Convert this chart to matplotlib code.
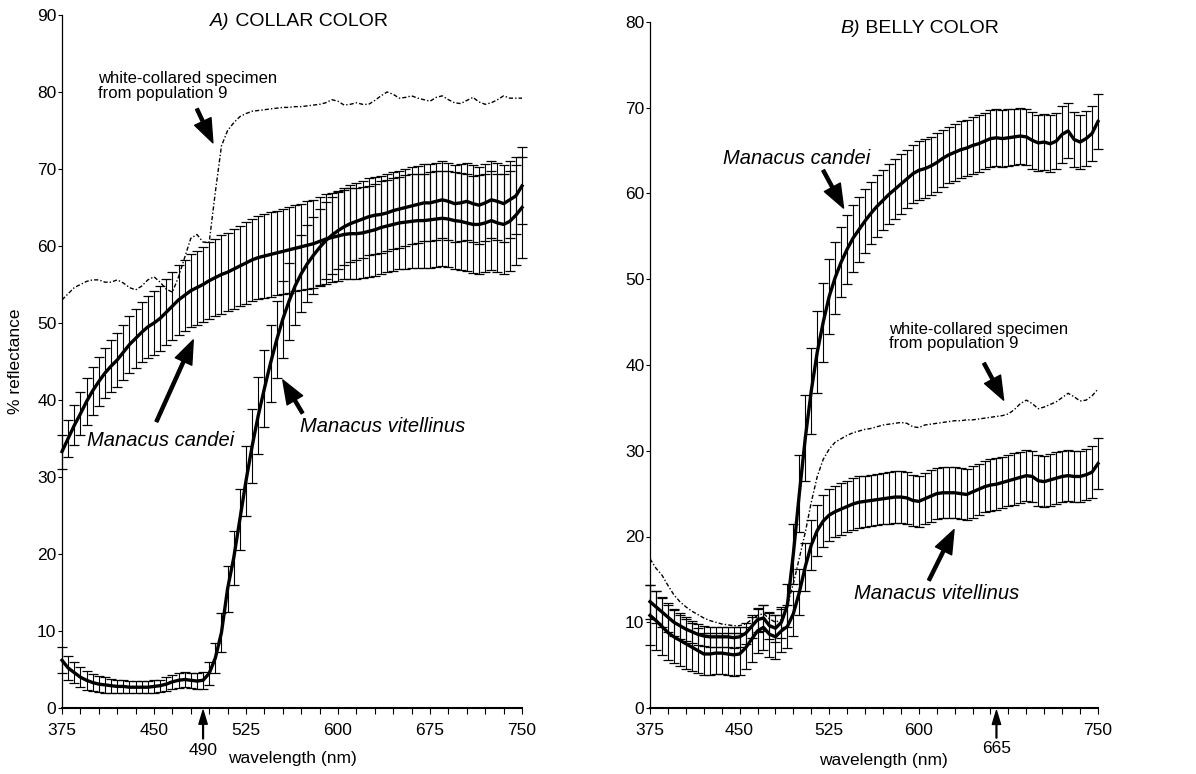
import numpy as np
import matplotlib
matplotlib.use('Agg')
import matplotlib.pyplot as plt

plt.rcParams['font.family'] = ['Liberation Sans', 'DejaVu Sans']

# wavelengths sampled every 5 nm
wl = np.arange(375, 755, 5)

# ---- A) collar colour ----
a_candei = [33.3, 35.0, 36.7, 38.2, 39.8, 41.2, 42.4, 43.5, 44.4, 45.2,
            46.2, 47.2, 48.0, 48.8, 49.5, 50.0, 50.6, 51.4, 52.2, 53.0,
            53.6, 54.2, 54.6, 55.0, 55.5, 55.9, 56.3, 56.6, 57.0, 57.4,
            57.8, 58.2, 58.5, 58.7, 58.9, 59.1, 59.3, 59.5, 59.7, 59.9,
            60.1, 60.3, 60.6, 60.9, 61.1, 61.3, 61.5, 61.6, 61.6, 61.7,
            61.9, 62.1, 62.4, 62.6, 62.8, 63.0, 63.1, 63.2, 63.3, 63.3,
            63.4, 63.5, 63.6, 63.5, 63.3, 63.2, 63.0, 62.8, 62.8, 63.0,
            63.3, 63.0, 62.8, 63.2, 64.0, 65.0]
a_candei_err = [2.2, 2.4, 2.6, 2.8, 3.0, 3.1, 3.2, 3.3, 3.4, 3.5,
                3.6, 3.7, 3.8, 3.9, 4.0, 4.1, 4.2, 4.3, 4.4, 4.5,
                4.6, 4.7, 4.8, 4.9, 5.0, 5.0, 5.1, 5.1, 5.2, 5.2,
                5.3, 5.3, 5.4, 5.4, 5.5, 5.5, 5.5, 5.6, 5.6, 5.6,
                5.7, 5.7, 5.7, 5.8, 5.8, 5.8, 5.8, 5.9, 5.9, 5.9,
                5.9, 6.0, 6.0, 6.0, 6.0, 6.0, 6.1, 6.1, 6.1, 6.1,
                6.2, 6.2, 6.2, 6.2, 6.3, 6.3, 6.3, 6.3, 6.4, 6.4,
                6.4, 6.4, 6.5, 6.5, 6.5, 6.6]
a_vit = [6.2, 5.2, 4.6, 4.0, 3.6, 3.3, 3.1, 3.0, 2.9, 2.8,
         2.8, 2.7, 2.7, 2.7, 2.7, 2.8, 2.9, 3.1, 3.4, 3.6,
         3.7, 3.6, 3.5, 3.6, 4.5, 6.5, 9.8, 15.5, 19.5, 24.5,
         29.5, 34.0, 38.0, 41.5, 44.8, 47.8, 50.5, 52.8, 54.8, 56.4,
         57.7, 58.8, 59.8, 60.7, 61.4, 62.0, 62.5, 62.9, 63.2, 63.5,
         63.8, 64.0, 64.1, 64.3, 64.6, 64.8, 65.0, 65.2, 65.4, 65.6,
         65.6, 65.8, 66.0, 65.8, 65.5, 65.6, 65.8, 65.5, 65.3, 65.6,
         66.0, 65.8, 65.5, 66.0, 66.5, 67.8]
a_vit_err = [1.7, 1.5, 1.4, 1.3, 1.2, 1.1, 1.0, 1.0, 0.9, 0.9,
             0.8, 0.8, 0.8, 0.8, 0.8, 0.8, 0.8, 0.9, 0.9, 1.0,
             1.0, 1.0, 1.0, 1.1, 1.5, 2.0, 2.5, 3.0, 3.5, 4.0,
             4.5, 4.8, 5.0, 5.0, 5.0, 5.0, 5.0, 5.0, 5.0, 5.0,
             5.0, 5.0, 5.0, 5.0, 5.0, 5.0, 5.0, 5.0, 5.0, 5.0,
             5.0, 5.0, 5.0, 5.0, 5.0, 5.0, 5.0, 5.0, 5.0, 5.0,
             5.0, 5.0, 5.0, 5.0, 5.0, 5.0, 5.0, 5.0, 5.0, 5.0,
             5.0, 5.0, 5.0, 5.0, 5.0, 5.0]
a_white = [53.0, 53.8, 54.6, 55.0, 55.4, 55.6, 55.6, 55.3, 55.3, 55.6,
           55.2, 54.6, 54.3, 54.8, 55.6, 56.0, 55.3, 54.4, 54.0, 56.0,
           58.5, 61.0, 61.5, 60.5, 60.5, 67.0, 73.0, 75.0, 76.0, 76.8,
           77.2, 77.5, 77.6, 77.7, 77.8, 77.9, 78.0, 78.0, 78.1, 78.1,
           78.2, 78.3, 78.4, 78.6, 79.0, 78.8, 78.3, 78.4, 78.6, 78.4,
           78.4, 78.9, 79.5, 80.0, 79.7, 79.2, 79.3, 79.5, 79.2, 79.0,
           78.8, 79.3, 79.5, 79.0, 78.6, 78.5, 78.9, 79.3, 78.7, 78.4,
           78.6, 79.0, 79.5, 79.2, 79.2, 79.2]

# ---- B) belly colour ----
b_candei = [12.4, 11.8, 11.2, 10.6, 10.0, 9.6, 9.2, 8.9, 8.6, 8.4,
            8.3, 8.3, 8.3, 8.3, 8.2, 8.3, 8.7, 9.5, 10.3, 10.5,
            9.6, 9.3, 10.0, 12.0, 18.0, 25.0, 31.5, 37.0, 41.5, 45.0,
            48.0, 50.2, 52.0, 53.5, 54.8, 55.8, 56.8, 57.7, 58.5, 59.2,
            59.9, 60.5, 61.1, 61.7, 62.3, 62.7, 62.9, 63.2, 63.6, 64.1,
            64.5, 64.8, 65.1, 65.3, 65.6, 65.8, 66.1, 66.4, 66.5, 66.4,
            66.5, 66.6, 66.7, 66.6, 66.2, 65.9, 66.0, 65.8, 66.1, 66.9,
            67.3, 66.3, 66.0, 66.4, 67.0, 68.4]
b_candei_err = [2.0, 1.9, 1.8, 1.7, 1.6, 1.5, 1.4, 1.3, 1.2, 1.2,
                1.2, 1.2, 1.2, 1.2, 1.2, 1.2, 1.2, 1.3, 1.4, 1.5,
                1.5, 1.6, 1.8, 2.5, 3.5, 4.5, 5.0, 5.0, 4.8, 4.6,
                4.4, 4.2, 4.1, 4.0, 3.9, 3.8, 3.7, 3.6, 3.6, 3.5,
                3.5, 3.5, 3.5, 3.4, 3.4, 3.4, 3.4, 3.4, 3.4, 3.3,
                3.3, 3.3, 3.3, 3.3, 3.3, 3.3, 3.3, 3.3, 3.3, 3.3,
                3.3, 3.3, 3.3, 3.3, 3.3, 3.3, 3.3, 3.3, 3.3, 3.3,
                3.2, 3.2, 3.2, 3.2, 3.2, 3.2]
b_vit = [10.8, 10.2, 9.5, 8.8, 8.3, 7.9, 7.5, 7.1, 6.7, 6.3,
         6.3, 6.4, 6.4, 6.3, 6.2, 6.3, 7.0, 8.0, 9.0, 9.4,
         8.6, 8.3, 9.0, 9.5, 11.0, 13.5, 16.5, 19.0, 20.7, 21.8,
         22.5, 22.9, 23.2, 23.5, 23.8, 24.0, 24.1, 24.2, 24.3, 24.4,
         24.5, 24.6, 24.6, 24.5, 24.2, 24.1, 24.4, 24.7, 25.0, 25.1,
         25.1, 25.1, 25.0, 24.9, 25.2, 25.5, 25.8, 26.0, 26.1, 26.3,
         26.5, 26.7, 26.9, 27.1, 27.0, 26.5, 26.4, 26.6, 26.8, 27.0,
         27.1, 27.0, 27.0, 27.2, 27.5, 28.5]
b_vit_err = [3.5, 3.4, 3.3, 3.2, 3.1, 3.0, 2.9, 2.8, 2.6, 2.5,
             2.4, 2.4, 2.4, 2.4, 2.5, 2.5, 2.5, 2.6, 2.6, 2.6,
             2.6, 2.6, 2.5, 2.5, 2.6, 2.7, 2.8, 2.9, 3.0, 3.0,
             3.0, 3.0, 3.0, 3.0, 3.0, 3.0, 3.0, 3.0, 3.0, 3.0,
             3.0, 3.0, 3.0, 3.0, 3.0, 3.0, 3.0, 3.0, 3.0, 3.0,
             3.0, 3.0, 3.0, 3.0, 3.0, 3.0, 3.0, 3.0, 3.0, 3.0,
             3.0, 3.0, 3.0, 3.0, 3.0, 3.0, 3.0, 3.0, 3.0, 3.0,
             3.0, 3.0, 3.0, 3.0, 3.0, 3.0]
b_white = [17.4, 16.3, 15.5, 14.3, 13.2, 12.4, 11.8, 11.3, 10.9, 10.5,
           10.2, 10.0, 9.8, 9.7, 9.6, 9.6, 9.8, 10.3, 10.8, 11.0,
           10.4, 10.0, 10.3, 12.0, 14.5, 17.5, 20.5, 24.0, 27.0, 29.0,
           30.2, 31.0, 31.4, 31.8, 32.1, 32.3, 32.5, 32.6, 32.8, 33.0,
           33.1, 33.2, 33.3, 33.2, 32.8, 32.7, 33.0, 33.1, 33.2, 33.3,
           33.4, 33.5, 33.5, 33.6, 33.6, 33.7, 33.8, 33.9, 34.0, 34.1,
           34.3, 34.8, 35.5, 35.9, 35.5, 34.9, 35.1, 35.4, 35.7, 36.2,
           36.7, 36.3, 35.8, 35.9, 36.4, 37.2]

a_xticks = [375, 450, 525, 600, 675, 750]
b_xticks = [375, 450, 525, 600, 750]
x_minor = list(range(375, 751, 15))

W, H = 1196, 774
fig = plt.figure(figsize=(W / 100, H / 100), dpi=100)
ax1 = fig.add_axes([62 / W, 66 / H, 460 / W, 693 / H])
ax2 = fig.add_axes([650 / W, 66 / H, 448 / W, 686 / H])

arrow = dict(facecolor='black', edgecolor='black', width=2.2, headwidth=13, headlength=17, shrink=0)
small_arrow = dict(facecolor='black', edgecolor='black', width=0.6, headwidth=6, headlength=10, shrink=0)


def series(ax, mean, err):
    ax.errorbar(wl, mean, yerr=err, fmt='none', ecolor='black', elinewidth=0.8,
                capsize=3.5, capthick=0.9, clip_on=False, zorder=2)
    ax.plot(wl, mean, color='black', lw=2.4, zorder=3, clip_on=False)


def style(ax, ymax, xticks):
    ax.set_xlim(375, 750)
    ax.set_ylim(0, ymax)
    for s in ['top', 'right']:
        ax.spines[s].set_visible(False)
    ax.spines['left'].set_linewidth(0.9)
    ax.spines['bottom'].set_linewidth(1.5)
    ax.set_xticks(xticks)
    ax.set_xticks(x_minor, minor=True)
    ax.set_yticks(range(0, ymax + 1, 10))
    ax.tick_params(axis='both', which='both', direction='out', labelsize=12.5, width=0.8)
    ax.tick_params(axis='x', which='both', length=4, pad=7)
    ax.tick_params(axis='y', length=3, pad=1)
    ax.set_xlabel('wavelength (nm)', fontsize=12.5, labelpad=9)


# panel A
series(ax1, a_candei, a_candei_err)
series(ax1, a_vit, a_vit_err)
ax1.plot(wl, a_white, color='black', lw=1.0, ls=(0, (3, 1.5, 1, 1.5)), zorder=1)
style(ax1, 90, a_xticks)
ax1.set_ylabel('% reflectance', fontsize=12.5, labelpad=10)
ax1.text(0.365, 0.99, 'A)', transform=ax1.transAxes, ha='right', va='center',
         fontsize=14, style='italic')
ax1.text(0.365, 0.99, ' COLLAR COLOR', transform=ax1.transAxes, ha='left', va='center',
         fontsize=14)
ax1.text(404, 80.8, 'white-collared specimen\nfrom population 9', fontsize=12,
         ha='left', va='center', linespacing=0.95)
ax1.annotate('', xy=(498, 73.4), xytext=(485, 77.8), arrowprops=arrow)
ax1.text(395, 34.8, 'Manacus candei', fontsize=14.5, style='italic', ha='left', va='center')
ax1.annotate('', xy=(482, 47.8), xytext=(452, 37.2), arrowprops=arrow)
ax1.text(569, 36.5, 'Manacus vitellinus', fontsize=14.5, style='italic', ha='left', va='center')
ax1.annotate('', xy=(555, 42.6), xytext=(571, 38.3), arrowprops=arrow)
ax1.annotate('', xy=(490, -0.3), xytext=(490, -4.0), annotation_clip=False,
             arrowprops=small_arrow)
ax1.text(490, -5.5, '490', fontsize=12.5, ha='center', va='center', clip_on=False)

# panel B
series(ax2, b_candei, b_candei_err)
series(ax2, b_vit, b_vit_err)
ax2.plot(wl, b_white, color='black', lw=1.0, ls=(0, (3, 1.5, 1, 1.5)), zorder=1)
style(ax2, 80, b_xticks)
ax2.xaxis.set_label_coords(0.522, -0.076)
ax2.xaxis.label.set_va('center')
ax2.text(0.469, 0.99, 'B)', transform=ax2.transAxes, ha='right', va='center',
         fontsize=14, style='italic')
ax2.text(0.469, 0.99, ' BELLY COLOR', transform=ax2.transAxes, ha='left', va='center',
         fontsize=14)
ax2.text(436, 64.1, 'Manacus candei', fontsize=14.5, style='italic', ha='left', va='center')
ax2.annotate('', xy=(537, 58.3), xytext=(520, 62.7), arrowprops=arrow)
ax2.text(575, 43.3, 'white-collared specimen\nfrom population 9', fontsize=12,
         ha='left', va='center', linespacing=0.95)
ax2.annotate('', xy=(671, 35.9), xytext=(654.6, 40.2), arrowprops=arrow)
ax2.text(546, 13.4, 'Manacus vitellinus', fontsize=14.5, style='italic', ha='left', va='center')
ax2.annotate('', xy=(629.5, 20.8), xytext=(608.5, 14.9), arrowprops=arrow)
ax2.annotate('', xy=(665, -0.3), xytext=(665, -3.5), annotation_clip=False,
             arrowprops=small_arrow)
ax2.text(665, -4.7, '665', fontsize=12.5, ha='center', va='center', clip_on=False)

fig.savefig('out.png', dpi=100)
